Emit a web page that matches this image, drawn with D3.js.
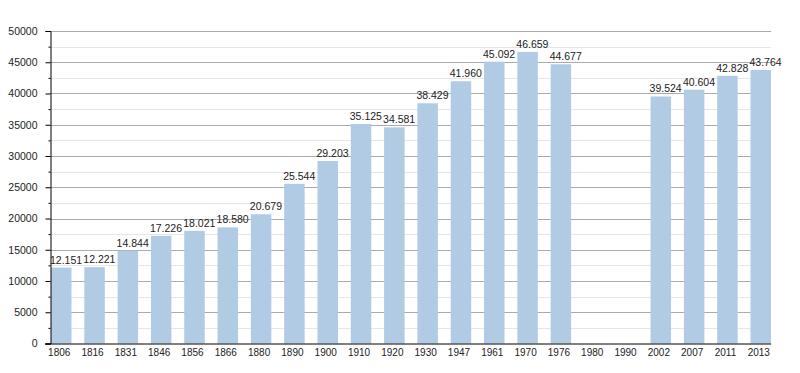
<!DOCTYPE html>
<html lang="en">
<head>
<meta charset="UTF-8">
<title>Population</title>
<script src="https://d3js.org/d3.v7.min.js"></script>
<style>
  body { margin: 0; background: white; }
  text { font-family: "Liberation Sans", Arial, sans-serif; fill: #222; }
</style>
</head>
<body>
<svg id="main" width="800" height="373"></svg>
<script>
// data (1980 and 1990 have no value)
const years = ["1806", "1816", "1831", "1846", "1856", "1866", "1880", "1890", "1900", "1910", "1920",
               "1930", "1947", "1961", "1970", "1976", "1980", "1990", "2002", "2007", "2011", "2013"];
const population = [12151, 12221, 14844, 17226, 18021, 18580, 20679, 25544, 29203, 35125, 34581,
                    38429, 41960, 45092, 46659, 44677, null, null, 39524, 40604, 42828, 43764];
const yTicks = [0, 5000, 10000, 15000, 20000, 25000, 30000, 35000, 40000, 45000, 50000];
const yMinorTicks = [2500, 7500, 12500, 17500, 22500, 27500, 32500, 37500, 42500, 47500];

let svg = d3.select('svg#main');
let plot = {left: 50, right: 771, top: 31, bottom: 343.5};

let x = d3.scaleBand().domain(years).range([plot.left + 1, plot.right]).paddingInner(0.385).paddingOuter(0).align(0);
let y = d3.scaleLinear().domain([0, 50000]).range([plot.bottom, plot.top]);

// grid lines
svg.append('g').selectAll('line')
    .data(yMinorTicks).join('line')
    .attr('x1', plot.left).attr('x2', plot.right)
    .attr('y1', d => Math.round(y(d)) + 0.5).attr('y2', d => Math.round(y(d)) + 0.5)
    .style('stroke', '#e6e6e6');
svg.append('g').selectAll('line')
    .data(yTicks.slice(1)).join('line')
    .attr('x1', plot.left).attr('x2', plot.right)
    .attr('y1', d => Math.round(y(d)) + 0.5).attr('y2', d => Math.round(y(d)) + 0.5)
    .style('stroke', '#ababab');

// bars
let data = years.map((d, i) => ({year: d, value: population[i]})).filter(d => d.value != null);
svg.append('g').selectAll('rect')
    .data(data).join('rect')
    .attr('x', d => x(d.year))
    .attr('width', x.bandwidth())
    .attr('y', d => y(d.value))
    .attr('height', d => plot.bottom - y(d.value))
    .style('fill', '#b1cbe5');

// value labels, dot as thousands separator, left-aligned on the bar
let fmt = d3.formatLocale({decimal: ",", thousands: ".", grouping: [3], currency: ["", ""]}).format(",");
svg.append('g').selectAll('text')
    .data(data).join('text')
    .attr('x', d => x(d.year) - 1)
    .attr('y', d => y(d.value) - 4)
    .style('font-size', '10.5px')
    .text(d => fmt(d.value));

// axes
let yAxis = svg.append('g')
    .attr('transform', 'translate(' + (plot.left + 0.5) + ',0)')
    .call(d3.axisLeft(y).tickValues(yTicks).tickSize(5).tickPadding(8).tickFormat(d3.format('d')));
yAxis.selectAll('text').style('font-size', '10.5px');
svg.append('g')
    .attr('transform', 'translate(' + (plot.left + 0.5) + ',0)')
    .call(d3.axisLeft(y).tickValues(yMinorTicks).tickSize(2).tickFormat(''))
    .select('.domain').remove();

let xAxis = svg.append('g')
    .attr('transform', 'translate(0,' + plot.bottom + ')')
    .call(d3.axisBottom(x).tickSize(0).tickPadding(5));
xAxis.select('.domain').attr('d', 'M' + (plot.left - 5) + ',0.5H' + plot.right);
xAxis.selectAll('text').style('font-size', '10px').attr('dx', -2);
svg.selectAll('.domain').style('stroke', '#000');
svg.selectAll('.tick line').style('stroke', '#000');
</script>
</body>
</html>
